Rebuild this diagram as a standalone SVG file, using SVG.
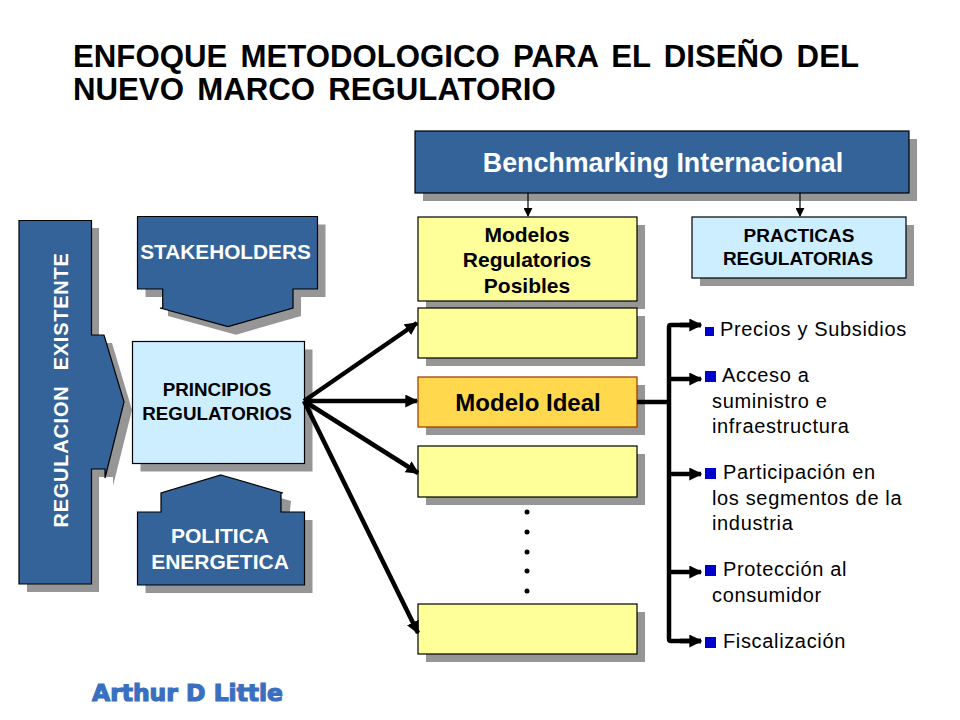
<svg xmlns="http://www.w3.org/2000/svg" width="960" height="720" viewBox="0 0 960 720">
<style>
text{font-family:"Liberation Sans",Arial,sans-serif;text-anchor:middle}
.sh{fill:#969696;stroke:none}
.blue{fill:#336399;stroke:#000;stroke-width:1.2}
.sky{fill:#cceeff;stroke:#000;stroke-width:1.2}
.yel{fill:#ffff99;stroke:#000;stroke-width:1.2}
.gold{fill:#ffd84d;stroke:#993300;stroke-width:1.2}
.w{fill:#fff;font-weight:bold}
.k{fill:#000;font-weight:bold}
.l{fill:#000;font-size:20px;text-anchor:start;letter-spacing:.65px}
.b{fill:#0000cc}
.t{fill:#000;font-weight:bold;font-size:31.2px;text-anchor:start}
.thick{fill:none;stroke:#000;stroke-width:4.500}
.thin{fill:none;stroke:#000;stroke-width:1.2}
</style>
<defs>
<marker id="big" viewBox="0 0 10 10" refX="9" refY="5" markerWidth="13" markerHeight="13" markerUnits="userSpaceOnUse" orient="auto"><path d="M0 0L10 5L0 10z" fill="#000"/></marker>
<marker id="small" viewBox="0 0 10 10" refX="9" refY="5" markerWidth="9" markerHeight="9" markerUnits="userSpaceOnUse" orient="auto"><path d="M0 0L10 5L0 10z" fill="#000"/></marker>
</defs>
<g id="title"><text class="t" x="73" y="67" word-spacing="4.600">ENFOQUE METODOLOGICO PARA EL DISEÑO DEL</text>
<text class="t" x="73" y="100" word-spacing="4.600">NUEVO MARCO REGULATORIO</text></g>

<g id="regulacion-existente">
<path class="sh" d="M27 228H99V343H112L132 410L113 486V477H99V592H27z"/>
<path class="blue" d="M19 220.500H91.500V335H104L124 402L105 478V469H91.500V584H19z"/>
<text class="w" font-size="20" letter-spacing=".75" word-spacing="9" transform="translate(67.500 390) rotate(-90)">REGULACION EXISTENTE</text>
</g>
<g id="stakeholders">
<path class="sh" d="M145.500 224.500H325.500V297H301V316L236 334.700L168 316V297H145.500z"/>
<path class="blue" d="M137.500 216.500H317.500V289H293V308L228 326.700L160 308H162.700V289H137.500z"/>
<text class="w" x="225.500" y="259" font-size="20.800">STAKEHOLDERS</text>
</g>
<g id="principios-regulatorios">
<rect class="sh" x="140.500" y="349.500" width="172" height="122"/>
<rect class="sky" x="132.500" y="341.500" width="172" height="122"/>
<text class="k" x="217" y="396" font-size="18.800">PRINCIPIOS</text>
<text class="k" x="217" y="420" font-size="18.800">REGULATORIOS</text>
</g>
<g id="politica-energetica">
<path class="sh" d="M229 483L291 501L289 520H312.500V593H145.500V520H169V501z"/>
<path class="blue" d="M221 475L283 493H281V512H304.500V585H137.500V512H161V493z"/>
<text class="w" x="220" y="543" font-size="21">POLITICA</text>
<text class="w" x="220" y="569" font-size="21">ENERGETICA</text>
</g>
<g id="benchmarking">
<rect class="sh" x="423" y="139" width="494" height="62"/>
<rect class="blue" x="415" y="131" width="494" height="62"/>
<text class="w" x="663" y="172" font-size="26.800">Benchmarking Internacional</text>
</g>
<g id="modelos">
<rect class="sh" x="426" y="225" width="219" height="84"/>
<rect class="yel" x="418" y="217" width="219" height="84"/>
<text class="k" x="527" y="242" font-size="21">Modelos</text>
<text class="k" x="527" y="267" font-size="21">Regulatorios</text>
<text class="k" x="527" y="293" font-size="21">Posibles</text>
</g>
<g id="practicas">
<rect class="sh" x="700" y="225" width="214" height="61"/>
<rect class="sky" x="692" y="217" width="214" height="61"/>
<text class="k" x="799" y="242" font-size="19">PRACTICAS</text>
<text class="k" x="798" y="265" font-size="19">REGULATORIAS</text>
</g>
<g id="modelo-a">
<rect class="sh" x="426" y="316" width="219" height="50"/>
<rect class="yel" x="418" y="308" width="219" height="50"/>
</g>
<g id="modelo-ideal">
<rect class="sh" x="426" y="385" width="219" height="50"/>
<rect class="gold" x="418" y="377" width="219" height="50"/>
<text class="k" x="528" y="411" font-size="24">Modelo Ideal</text>
</g>
<g id="modelo-b">
<rect class="sh" x="426" y="454" width="219" height="51"/>
<rect class="yel" x="418" y="446" width="219" height="51"/>
</g>
<g id="modelo-c">
<rect class="sh" x="426" y="612" width="219" height="50"/>
<rect class="yel" x="418" y="604" width="219" height="50"/>
</g>
<g id="puntos" fill="#000">
<circle cx="527" cy="512" r="2.500"/><circle cx="527" cy="532" r="2.500"/><circle cx="527" cy="552" r="2.500"/><circle cx="527" cy="571" r="2.500"/><circle cx="527" cy="591" r="2.500"/>
</g>
<g id="lista">
<rect class="b" x="705" y="327" width="9" height="9"/>
<text class="l" x="720" y="336">Precios y Subsidios</text>
<rect class="b" x="705" y="371" width="11" height="11"/>
<text class="l" x="722" y="382">Acceso a</text>
<text class="l" x="712" y="408">suministro e</text>
<text class="l" x="712" y="433">infraestructura</text>
<rect class="b" x="705" y="468" width="11" height="11"/>
<text class="l" x="723" y="479">Participación en</text>
<text class="l" x="712" y="505">los segmentos de la</text>
<text class="l" x="712" y="530">industria</text>
<rect class="b" x="705" y="565" width="11" height="11"/>
<text class="l" x="723" y="576">Protección al</text>
<text class="l" x="712" y="602">consumidor</text>
<rect class="b" x="705" y="637" width="11" height="11"/>
<text class="l" x="723" y="648">Fiscalización</text>
</g>
<g id="logo"><text x="92" y="701" font-size="23" font-weight="bold" fill="#3a6fc0" stroke="#3a6fc0" stroke-width="1.200" style="text-anchor:start;font-family:'DejaVu Sans',sans-serif" textLength="191" lengthAdjust="spacingAndGlyphs">Arthur D Little</text></g>

<g id="connectors">
<path class="thin" d="M528 193V216" marker-end="url(#small)"/>
<path class="thin" d="M800 193V216" marker-end="url(#small)"/>
<path class="thick" d="M304 401L417 323" marker-end="url(#big)"/>
<path class="thick" d="M304 401H417" marker-end="url(#big)"/>
<path class="thick" d="M304 401L418 473" marker-end="url(#big)"/>
<path class="thick" d="M304 401L418 633" marker-end="url(#big)"/>
<path class="thick" d="M637 402H669"/>
<path class="thick" d="M669 327V639"/>
<path class="thick" d="M701 325H671Q669 325 669 327" />
<path class="thick" d="M669 639Q669 641 671 641H701"/>
<path class="thick" d="M680 325H701" marker-end="url(#big)"/>
<path class="thick" d="M669 379H701" marker-end="url(#big)"/>
<path class="thick" d="M669 474H701" marker-end="url(#big)"/>
<path class="thick" d="M669 572H701" marker-end="url(#big)"/>
<path class="thick" d="M680 641H701" marker-end="url(#big)"/>
</g>
</svg>
